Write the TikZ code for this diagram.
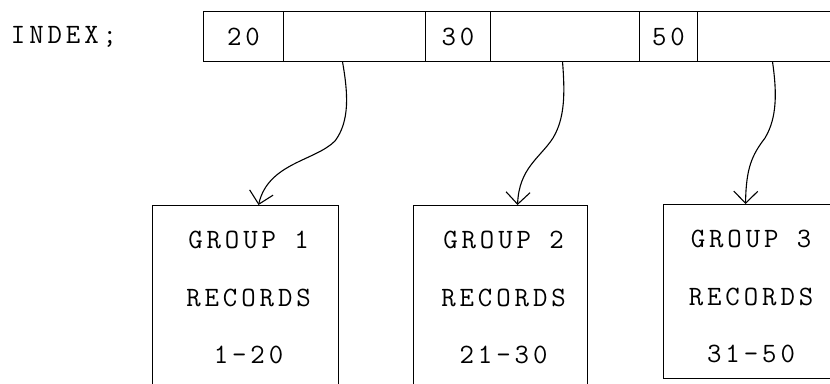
\documentclass[tikz,border=0pt]{standalone}
\usepackage{fontspec}
\newfontfamily\tw[LetterSpace=14]{Latin Modern Mono}
\usetikzlibrary{arrows.meta,calc}
\begin{document}
\begin{tikzpicture}[x=1pt,y=1pt,
  ln/.style={line width=1.1pt},
  tt/.style={font=\tw\fontsize{28}{28}\selectfont},
  cell/.style={draw,ln,tt,anchor=south west,minimum height=50pt,inner sep=0pt},
  grp/.style={draw,ln,anchor=north west,inner sep=0pt,minimum height=190pt},
  txt/.style={tt,inner sep=0pt},
  ptr/.style={ln,-{Straight Barb[length=12pt,width=24pt]}}]
\useasboundingbox (0,0) rectangle (830,383);
% label
\node[txt] (lab) at (64,346) {INDEX;};
% index cells
\node[cell,minimum width=80pt]  (c1) at (203,321) {20};
\node[cell,minimum width=142pt] (c2) at (283,321) {};
\node[cell,minimum width=65pt]  (c3) at (425,321) {30};
\node[cell,minimum width=149pt] (c4) at (490,321) {};
\node[cell,minimum width=58pt]  (c5) at (639,321) {50};
\node[cell,minimum width=143pt] (c6) at (697,321) {};
% group boxes
\node[grp,minimum width=186pt] (g1) at (152,178) {};
\node[grp,minimum width=174pt] (g2) at (413,178) {};
\node[grp,minimum width=169pt,minimum height=174pt] (g3) at (663,179) {};
% box texts
\foreach \b/\n/\r in {g1/1/1-20, g2/2/21-30, g3/3/31-50}{
  \node[txt] (\b a) at ($(\b.north)+(3,-35)$) {GROUP \n};
  \node[txt] (\b b) at ($(\b.north)+(3,-93)$) {RECORDS};
  \node[txt] (\b c) at ($(\b.north)+(3,-150)$) {\r};
}
% pointers
\draw[ptr] ([xshift=-12pt]c2.south) .. controls (348,290) and (350,262) .. (335,242)
  .. controls (315,222) and (268,220) .. ([xshift=13pt]g1.north);
\draw[ptr] ([xshift=-2.5pt]c4.south) .. controls (565,290) and (565,265) .. (553,245)
  .. controls (540,225) and (519,215) .. ([xshift=17pt]g2.north);
\draw[ptr] ([xshift=3.5pt]c6.south) .. controls (777,290) and (777,265) .. (765,245)
  .. controls (752,228) and (746,215) .. ([xshift=-2.5pt]g3.north);
\end{tikzpicture}
\end{document}
